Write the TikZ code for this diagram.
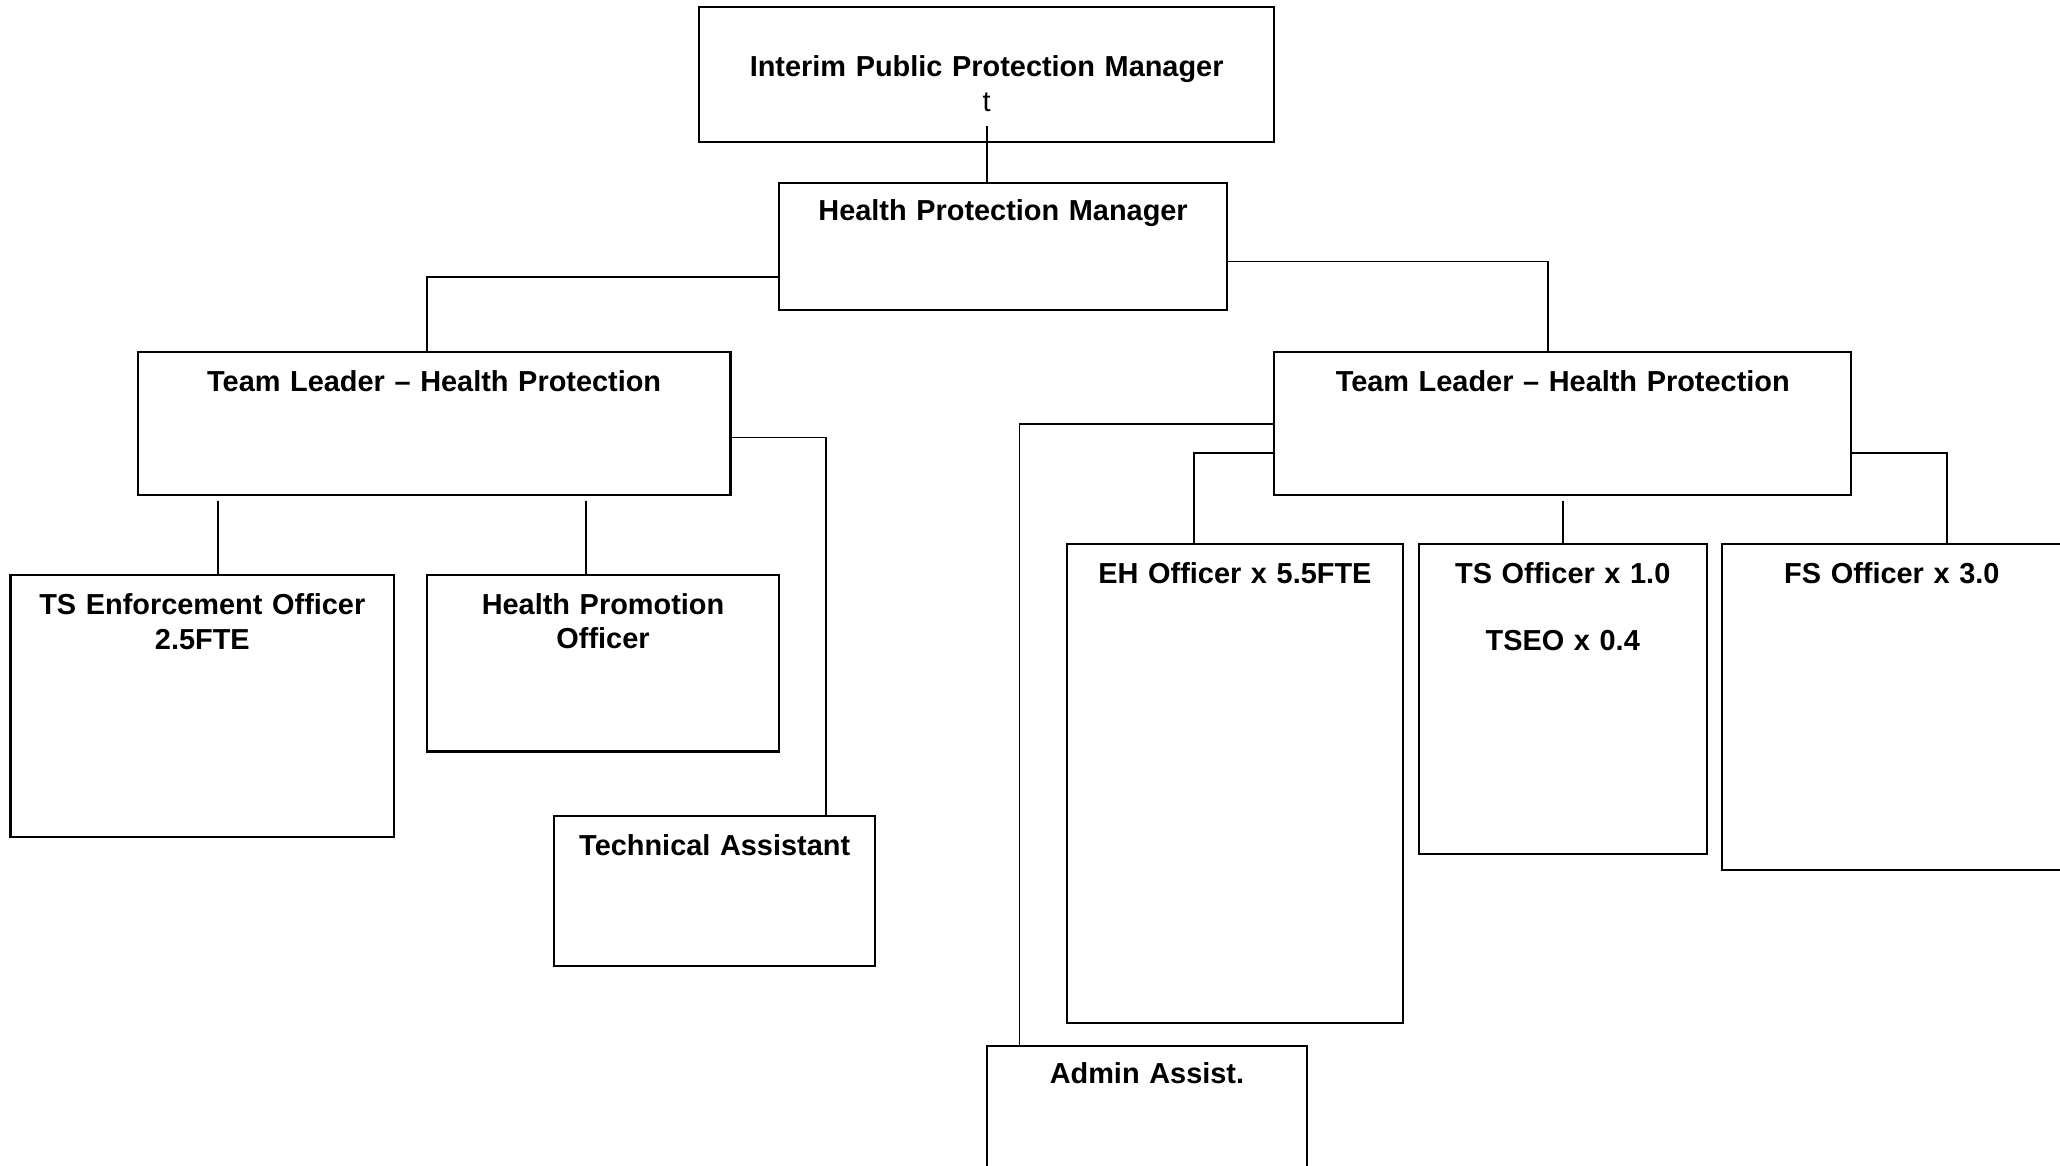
\documentclass[tikz,border=0pt]{standalone}
\usepackage{fontspec}
\setmainfont{Liberation Sans}
\usepackage{tikz}

\tikzset{
  post/.style 2 args={draw, line width=0.8pt, inner sep=0pt, outer sep=0pt,
    anchor=north west, align=center,
    font=\fontsize{11}{13.3}\selectfont\bfseries,
    /utils/exec={\pgfmathsetlengthmacro\postw{#1*0.5pt}%
      \pgfmathsetlengthmacro\postd{#2*0.5pt-15pt}},
    text width=\postw, text height=15pt, text depth=\postd},
  link/.style={line width=0.7pt},
}

\begin{document}
\begin{tikzpicture}[x=0.5pt, y=-0.5pt]
			\useasboundingbox (0,0) rectangle (1568,887);
			
			\node [post={438}{103}, text height=26.5pt, text depth=25pt] (ipm) at (532,5)
			{Interim Public Protection Manager\\ \mdseries t};
			\node [post={341}{97}, text height=14.5pt, text depth=34pt] (hpm) at (593,139) {Health Protection Manager};
			
			\node [post={451}{109}] (tl1) at (105,268) {Team Leader -- Health Protection};
			\node [post={439}{109}] (tl2) at (970,268) {Team Leader -- Health Protection};
			
			\node [post={292}{199}] (tsenf) at (8,438) {TS Enforcement Officer\\ 2.5FTE};
			\node [post={268}{134}] (hpo) at (325,438) {Health Promotion\\[-0.5pt] Officer};
			\node [post={244}{114}] (tech) at (422,621) {Technical Assistant};
			
			\node [post={256}{365}] (eh) at (812,414) {EH Officer x 5.5FTE};
			\node [post={219}{236}] (tso) at (1080,414) {TS Officer x 1.0\\[12.3pt] TSEO x 0.4};
			\node [post={258}{248}] (fs) at (1311,414) {FS Officer x 3.0};
			\node [post={244}{130}, text height=14.5pt, text depth=50.5pt] (admin) at (751,796) {Admin Assist.};
			
			\draw [link] ([yshift=6pt]ipm.south) -- (ipm.south |- hpm.north);
			\draw [link] ([yshift=-11.75pt]hpm.west) -| ([xshift=-2.75pt]tl1.north);
			\draw [link] ([yshift=-5.75pt]hpm.east) -| ([xshift=-5.75pt]tl2.north);
			
			\draw [link] ([xshift=6pt,yshift=-2pt]tsenf.north |- tl1.south) -- ([xshift=6pt]tsenf.north);
			\draw [link] ([xshift=-6.5pt,yshift=-2pt]hpo.north |- tl1.south) -- ([xshift=-6.5pt]hpo.north);
			\draw [link] ([yshift=-5.25pt]tl1.east) -| ([xshift=42.5pt]tech.north);
			
			\draw [link] (tl2.west) -| ([xshift=-48.5pt]admin.north);
			\draw [link] ([yshift=-11.25pt]tl2.west) -| ([xshift=-15.5pt]eh.north);
			\draw [link] ([yshift=-2pt]tl2.south) -- (tso.north);
			\draw [link] ([yshift=-11.25pt]tl2.east) -| ([xshift=21pt]fs.north);
		\end{tikzpicture}
\end{document}
